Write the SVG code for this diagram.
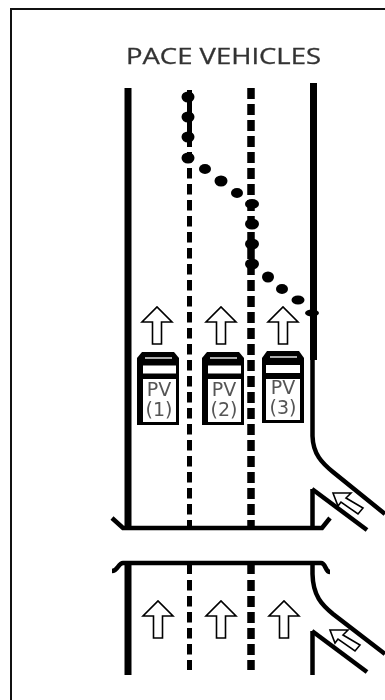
<svg xmlns="http://www.w3.org/2000/svg" width="385" height="700" viewBox="0 0 385 700">
<style>
.edge{fill:none;stroke:#000;stroke-width:7}
.thin{fill:none;stroke:#000;stroke-width:4.500}
.d1{fill:none;stroke:#000;stroke-width:5;stroke-dasharray:10.500 5.500}
.d2{fill:none;stroke:#000;stroke-width:7.500;stroke-dasharray:11 5}
.solid1{fill:none;stroke:#000;stroke-width:5}
.solid2{fill:none;stroke:#000;stroke-width:7.500}
.dot{fill:#000}
.arrow{fill:#fff;stroke:#000;stroke-width:1.600}
.t{font-family:"DejaVu Sans",sans-serif;fill:#555;text-anchor:middle;font-size:19px}
.title{font-family:"Open Sans","Liberation Sans",sans-serif;fill:#333;font-size:21.500px;stroke:#333;stroke-width:.3}
</style>
<defs>
<filter id="soft" x="-5%" y="-5%" width="110%" height="110%"><feGaussianBlur stdDeviation="0.450"/></filter>
<path id="up" class="arrow" d="M-4.500 19V-3H-15L0-18 15-3H4.500V19Z"/>
<path id="ramp" class="arrow" d="M333 493H351L346 498 363 508 358 514 341 502 338 506Z"/>
<g id="busbody">
<path d="M0 39V-28L5-34H37L42-28V39Z" fill="#000"/>
<path d="M6-20.500H39V-12.500H6Z" fill="#fff"/>
<path d="M6-7H39V36H6Z" fill="#fff"/>
<path d="M8-28H35" stroke="#aaa" stroke-width="2" fill="none"/>
</g>
<g id="busbody3">
<path d="M0 37V-28L5-35H37L42-28V37Z" fill="#000"/>
<path d="M4-21H38V-13H4Z" fill="#fff"/>
<path d="M4-7H38V34H4Z" fill="#fff"/>
<path d="M8-29H35" stroke="#aaa" stroke-width="2" fill="none"/>
</g>
</defs>
<rect x="11" y="9" width="400" height="720" fill="#fff" stroke="#111" stroke-width="2"/>
<g filter="url(#soft)">
<text class="title" x="126" y="63.500" textLength="195" lengthAdjust="spacingAndGlyphs">PACE VEHICLES</text>
<g id="connectors">
<path class="edge" d="M128 88V528"/>
<path class="solid1" d="M189.500 90V147"/>
<path class="d1" d="M189.500 152V518"/>
<path class="solid1" d="M189.500 520V528"/>
<path class="d2" d="M251 88V516"/>
<path class="solid2" d="M251 520V528"/>
<path class="edge" d="M313.500 83V360"/>
<path class="thin" d="M312.500 360V436C313 454 322 463 333 472L385 514"/>
<path class="thin" d="M312.500 489V528"/>
<path class="thin" d="M312 489L367 530"/>
<path class="thin" d="M112 518L123 528H322L330 518"/>
<path class="thin" d="M112 571C118 571 118 563 123 563H321C326 563 325 572 330 572"/>
<path class="edge" d="M128 563V675"/>
<path class="solid1" d="M189.500 563V574"/>
<path class="d1" d="M189.500 580V670"/>
<path class="solid2" d="M251 563V574"/>
<path class="d2" d="M251 580V670"/>
<path class="thin" d="M312.500 563V574C313 596 322 605 333 614L385 654"/>
<path class="thin" d="M312.500 631V675"/>
<path class="thin" d="M312 631L367 672"/>
</g>
<g id="pace-dots">
<ellipse class="dot" cx="188" cy="97" rx="6.500" ry="5.500"/><ellipse class="dot" cx="188" cy="117" rx="6.500" ry="5.500"/><ellipse class="dot" cx="188" cy="137" rx="6.500" ry="5.500"/><ellipse class="dot" cx="188" cy="158" rx="6.500" ry="5.500"/>
<ellipse class="dot" cx="205" cy="169" rx="6" ry="5"/><ellipse class="dot" cx="221" cy="181" rx="6.500" ry="5.500"/><ellipse class="dot" cx="237" cy="193" rx="6" ry="5"/>
<ellipse class="dot" cx="252" cy="204" rx="7" ry="5"/><ellipse class="dot" cx="252" cy="224" rx="7" ry="5.500"/><ellipse class="dot" cx="252" cy="244" rx="7" ry="5.500"/><ellipse class="dot" cx="252" cy="264" rx="7" ry="5.500"/>
<ellipse class="dot" cx="268" cy="277" rx="6" ry="5.500"/><ellipse class="dot" cx="282" cy="289" rx="6" ry="5"/><ellipse class="dot" cx="298" cy="300" rx="6.500" ry="4.500"/><ellipse class="dot" cx="312" cy="313" rx="7" ry="3.500"/>
</g>
<g id="arrows-upper">
<use href="#up" x="157" y="325"/><use href="#up" x="221" y="325"/><use href="#up" x="283" y="325"/>
<use href="#ramp"/>
</g>
<g id="pv1"><use href="#busbody" x="137" y="386"/><text class="t"><tspan x="159" y="396">PV</tspan><tspan x="159" y="416">(1)</tspan></text></g>
<g id="pv2"><use href="#busbody" x="202" y="386"/><text class="t"><tspan x="224" y="396">PV</tspan><tspan x="224" y="416">(2)</tspan></text></g>
<g id="pv3"><use href="#busbody3" x="262" y="386"/><text class="t"><tspan x="283" y="394">PV</tspan><tspan x="283" y="414">(3)</tspan></text></g>
<g id="arrows-lower">
<use href="#up" x="158" y="619"/><use href="#up" x="221" y="619"/><use href="#up" x="284" y="619"/>
<use href="#ramp" transform="translate(-3 137)"/>
</g>
</g>
</svg>
